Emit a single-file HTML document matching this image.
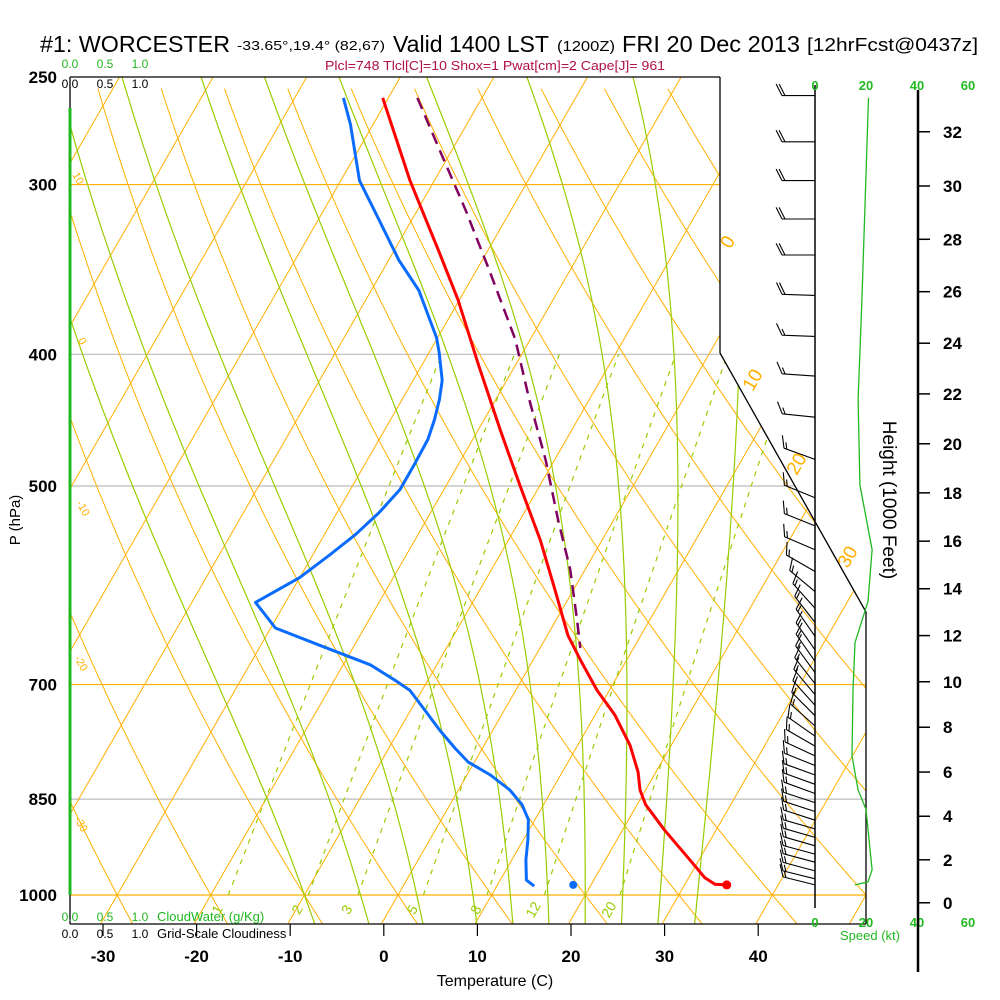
<!DOCTYPE html>
<html><head><meta charset="utf-8"><title>Skew-T WORCESTER</title>
<style>
html,body{margin:0;padding:0;background:#fff;}
svg{display:block;font-family:"Liberation Sans",sans-serif;}
</style></head>
<body>
<svg id="chart" width="1000" height="1000" viewBox="0 0 1000 1000" xmlns="http://www.w3.org/2000/svg">
<defs>
<clipPath id="plotclip"><polygon points="70,77 720,77 720,353 866,612 866,924 70,924"/></clipPath>
</defs>
<rect x="0" y="0" width="1000" height="1000" fill="#fff"/>
<g id="title" fill="#000">
<text x="40" y="52" font-size="23" textLength="190" lengthAdjust="spacingAndGlyphs">#1: WORCESTER</text>
<text x="237" y="50" font-size="13" textLength="148" lengthAdjust="spacingAndGlyphs">-33.65°,19.4° (82,67)</text>
<text x="393" y="52" font-size="23" textLength="156" lengthAdjust="spacingAndGlyphs">Valid 1400 LST</text>
<text x="557" y="51" font-size="15" textLength="58" lengthAdjust="spacingAndGlyphs">(1200Z)</text>
<text x="622" y="52" font-size="23" textLength="178" lengthAdjust="spacingAndGlyphs">FRI 20 Dec 2013</text>
<text x="807" y="51" font-size="18" textLength="171" lengthAdjust="spacingAndGlyphs">[12hrFcst@0437z]</text>
</g>
<text x="495" y="70" font-size="13" fill="#b0104a" text-anchor="middle" textLength="340" lengthAdjust="spacingAndGlyphs">Plcl=748 Tlcl[C]=10 Shox=1 Pwat[cm]=2 Cape[J]= 961</text>
<g id="grid" clip-path="url(#plotclip)"></g>
<g id="frame"></g>
<g id="series"></g>
<g id="winds"></g>
<g id="axes"></g>
</svg>
<script>
// ---- data ----
const pressureTicks = [250, 300, 400, 500, 700, 850, 1000];
const tempTicks = [-30, -20, -10, 0, 10, 20, 30, 40];
const tempP = [259,298,338,365,407,455,499,548,596,644,671,707,737,776,812,837,858,896,942,971,982,983];
const tempT = [-50.6,-42.6,-34.8,-30.1,-24.0,-17.6,-12.2,-6.6,-2.0,2.2,5.0,8.7,12.1,15.6,18.1,19.4,20.9,24.5,29.0,31.7,33.2,34.5];
const dewP = [259,271,298,318,341,359,389,399,418,432,447,462,482,503,523,543,562,584,609,622,636,655,677,695,707,731,756,780,798,816,837,858,880,911,942,975,985];
const dewT = [-54.8,-52.4,-48.0,-43.6,-38.9,-34.9,-30.1,-28.9,-26.9,-26.0,-25.3,-24.8,-24.7,-24.7,-25.5,-26.7,-28.2,-30.0,-33.2,-31.4,-29.5,-23.7,-17.1,-13.5,-11.3,-8.5,-5.7,-2.9,-0.7,2.5,5.5,7.7,9.3,10.5,11.5,12.8,14.0];
const surfaceTemp = [983, 34.5];
const surfaceDew = [983, 18.1];
const parcelP = [259,283,313,347,390,432,478,530,576,627,658];
const parcelT = [-46.9,-41.3,-34.9,-28.6,-21.6,-16.4,-11.0,-5.9,-1.6,2.2,4.3];
const windP = [258,279,298,318,338,362,388,415,445,478,510,535,557,578,598,615,630,645,660,673,686,699,712,725,738,751,764,777,790,803,816,829,842,855,868,881,894,907,920,933,946,960,973,983];
const windDir = [270,270,270,270,270,272,272,274,276,290,292,292,293,300,310,318,322,325,325,325,324,322,320,318,315,312,305,300,295,292,290,290,290,288,288,288,286,286,286,285,285,285,284,284];
const windSpd = [20,20,20,20,20,20,15,15,15,15,15,15,15,15,15,15,15,15,15,15,15,15,15,15,15,15,15,15,15,15,15,15,15,15,15,15,15,15,15,15,15,15,15,15];
const speedP = [259,365,432,499,557,608,652,707,790,837,865,927,958,978,983];
const speedKt = [21,18.4,16.9,17.6,22.4,20.8,15.7,14.9,14.5,16.9,20,21.6,22.4,20.8,15.7];
const heightTicks = [0,2,4,6,8,10,12,14,16,18,20,22,24,26,28,30,32];
const speedTicks = [0,20,40,60];
const mixRatios = [1,2,3,5,8,12,20];
const moistThetaW = [-10,-4,2,8,12,16,20,24,28,32];
const dryTheta = [-40,-30,-20,-10,0,10,20,30,40,50,60,70,80,90,100,110,120,130,140,150,160,170,180,190,200];
const isotherms = [-130,-120,-110,-100,-90,-80,-70,-60,-50,-40,-30,-20,-10,0,10,20,30,40,50];

// ---- axes ----
const Y0 = 77, Y1 = 895;
function yP(p){ return Y0 + (Y1 - Y0) * Math.log(p/250) / Math.log(4); }
function xTP(T, p){ return 398 + 9.36 * T + 0.575 * (Y1 - yP(p)); }
function xSpd(s){ return 815 + 2.55 * s; }
function pFromKft(z){ return 1013.25 * Math.pow(1 - z*1000/145366, 1/0.190284); }

const NS = 'http://www.w3.org/2000/svg';
function mk(parent, tag, attrs, text){
  const el = document.createElementNS(NS, tag);
  for (const k in attrs) el.setAttribute(k, attrs[k]);
  if (text !== undefined) el.textContent = text;
  parent.appendChild(el);
  return el;
}
function ptsStr(arr){ return arr.map(a => a[0].toFixed(1)+','+a[1].toFixed(1)).join(' '); }

const grid = document.getElementById('grid');
const frame = document.getElementById('frame');
const series = document.getElementById('series');
const winds = document.getElementById('winds');
const axes = document.getElementById('axes');
const PBOT = 1055, PTOP = 250;

pressureTicks.forEach(p => {
  if (p === 250) return;
  const col = (p === 300 || p === 700 || p === 1000) ? '#ffb000' : '#bbbbbb';
  const ln = mk(grid, 'line', {x1:70, x2:866, y1:yP(p), y2:yP(p), stroke:col, 'stroke-width':1.2});
  
  
});

isotherms.forEach(T => {
  const ln = mk(grid, 'line', {x1:xTP(T,PBOT), y1:yP(PBOT), x2:xTP(T,PTOP), y2:yP(PTOP), stroke:'#ffb000', 'stroke-width':1});
  
  
});

dryTheta.forEach(th => {
  const pts = [];
  for (let p = PBOT; p >= PTOP; p -= 10) {
    const T = (th + 273.15) * Math.pow(p/1000, 0.286) - 273.15;
    pts.push([xTP(T,p), yP(p)]);
  }
  const pl = mk(grid, 'polyline', {points:ptsStr(pts), fill:'none', stroke:'#ffb000', 'stroke-width':1});
  
  
});

function es(Tc){ return 6.112 * Math.exp(17.67*Tc/(Tc+243.5)); }
function moistPath(Tw){
  const Rd=287, cp=1004, Lv=2.5e6, eps=0.622;
  let T = Tw + 273.15, p = 1000;
  const up = [], down = [];
  let Td = T;
  for (let q = 1000; q <= PBOT; q += 5) {
    down.push([xTP(Td-273.15,q), yP(q)]);
    const e = es(Td-273.15), rs = eps*e/(q-e);
    const dTdp = (Rd*Td + Lv*rs)/(q*(cp + Lv*Lv*rs*eps/(Rd*Td*Td)));
    Td += dTdp*5;
  }
  for (p = 1000; p >= PTOP; p -= 5) {
    up.push([xTP(T-273.15,p), yP(p)]);
    const e = es(T-273.15), rs = eps*e/(p-e);
    const dTdp = (Rd*T + Lv*rs)/(p*(cp + Lv*Lv*rs*eps/(Rd*T*T)));
    T -= dTdp*5;
  }
  return down.reverse().concat(up);
}
moistThetaW.forEach(tw => {
  const pl = mk(grid, 'polyline', {points:ptsStr(moistPath(tw)), fill:'none', stroke:'#99cc00', 'stroke-width':1.2});
  
  
});

function tdFromW(w, p){ const e = w*p/(622+w); const l = Math.log(e/6.112); return 243.5*l/(17.67-l); }
mixRatios.forEach(w => {
  const pts = [];
  for (let p = 1000; p >= 400; p -= 10) pts.push([xTP(tdFromW(w,p)-1,p), yP(p)]);
  const pl = mk(grid, 'polyline', {points:ptsStr(pts), fill:'none', stroke:'#99cc00', 'stroke-width':1.2, 'stroke-dasharray':'5,6'});
  
  
  const lx = xTP(tdFromW(w,1000)-1,1000) - 7, ly = 912;
  const t = mk(axes, 'text', {x:lx, y:ly, 'font-size':14, fill:'#99cc00', 'text-anchor':'middle', transform:'rotate(-60 '+lx+' '+ly+')'}, String(w));
  
  
});

[[70,77,720,77],[720,77,720,353],[720,353,866,612],[866,612,866,924],[70,924,866,924],[70,77,70,924]].forEach(s => {
  const ln = mk(frame, 'line', {x1:s[0], y1:s[1], x2:s[2], y2:s[3], stroke:'#000', 'stroke-width':1.3});
  
  
});
const gv = mk(frame, 'line', {x1:70, y1:108, x2:70, y2:895, stroke:'#22b822', 'stroke-width':3});



function profile(P, T, color, w, dash, name){
  const pts = P.map((p,i) => [xTP(T[i],p), yP(p)]);
  const a = {points:ptsStr(pts), fill:'none', stroke:color, 'stroke-width':w, 'stroke-linejoin':'round'};
  if (dash) a['stroke-dasharray'] = dash;
  const pl = mk(series, 'polyline', a);
  
  
}
profile(parcelP, parcelT, '#800060', 2.5, '12,7', 'parcel-curve');
profile(dewP, dewT, '#0a6cff', 3, null, 'dewpoint-curve');
profile(tempP, tempT, '#ff0000', 3, null, 'temperature-curve');
const d1 = mk(series, 'circle', {cx:xTP(surfaceTemp[1],surfaceTemp[0]), cy:yP(surfaceTemp[0]), r:4.5, fill:'#ff0000'});


const d2 = mk(series, 'circle', {cx:xTP(surfaceDew[1],surfaceDew[0]), cy:yP(surfaceDew[0]), r:4, fill:'#0a6cff'});



const staff = mk(winds, 'line', {x1:815, y1:85, x2:815, y2:908, stroke:'#000', 'stroke-width':1.5});


windP.forEach((p,i) => {
  const y = yP(p), rad = windDir[i]*Math.PI/180;
  const ux = Math.sin(rad), uy = -Math.cos(rad);
  const L = 33, ex = 815 + ux*L, ey = y + uy*L;
  let d = 'M815,'+y.toFixed(1)+' L'+ex.toFixed(1)+','+ey.toFixed(1);
  const a = 63*Math.PI/180;
  const fx = ux*Math.cos(a) - uy*Math.sin(a), fy = ux*Math.sin(a) + uy*Math.cos(a);
  let s = windSpd[i], k = 0;
  while (s >= 10) { const bx = ex - ux*3*k, by = ey - uy*3*k; d += ' M'+bx.toFixed(1)+','+by.toFixed(1)+' l'+(fx*13).toFixed(1)+','+(fy*13).toFixed(1); s -= 10; k++; }
  if (s >= 5) { const bx = ex - ux*3*k, by = ey - uy*3*k; d += ' M'+bx.toFixed(1)+','+by.toFixed(1)+' l'+(fx*7).toFixed(1)+','+(fy*7).toFixed(1); }
  const b = mk(winds, 'path', {d:d, fill:'none', stroke:'#000', 'stroke-width':1.1});
  
  
});
const sp = mk(winds, 'polyline', {points:ptsStr(speedP.map((p,i)=>[xSpd(speedKt[i]), yP(p)])), fill:'none', stroke:'#22b822', 'stroke-width':1.3});


speedTicks.forEach(s => {
  [[85,'top'],[922,'bottom']].forEach(r => {
    const t = mk(axes, 'text', {x:xSpd(s), y:r[0]+5, 'font-size':13, 'font-weight':'bold', fill:'#22b822', 'text-anchor':'middle'}, String(s));
    
    
  });
});
const spl = mk(axes, 'text', {x:870, y:940, 'font-size':13, fill:'#22b822', 'text-anchor':'middle'}, 'Speed (kt)');



const ha = mk(axes, 'line', {x1:918, y1:90, x2:918, y2:972, stroke:'#000', 'stroke-width':2.5});


heightTicks.forEach(h => {
  const y = yP(pFromKft(h));
  const tk = mk(axes, 'line', {x1:918, x2:930, y1:y, y2:y, stroke:'#000', 'stroke-width':1.5});
  
  
  const t = mk(axes, 'text', {x:943, y:y+6, 'font-size':17, 'font-weight':'bold', fill:'#000'}, String(h));
  
  
});
const ht = mk(axes, 'text', {x:883, y:500, 'font-size':19, fill:'#000', 'text-anchor':'middle', transform:'rotate(90 883 500)'}, 'Height (1000 Feet)');



pressureTicks.forEach(p => {
  const t = mk(axes, 'text', {x:57, y:yP(p)+6, 'font-size':17, 'font-weight':'bold', fill:'#000', 'text-anchor':'end'}, String(p));
  
  
});
const pt = mk(axes, 'text', {x:20, y:520, 'font-size':15, fill:'#000', 'text-anchor':'middle', transform:'rotate(-90 20 520)'}, 'P (hPa)');



tempTicks.forEach(T => {
  const x = xTP(T, 1052) + 3;
  const tk = mk(axes, 'line', {x1:x, x2:x, y1:924, y2:936, stroke:'#000', 'stroke-width':1.2});
  
  
  const t = mk(axes, 'text', {x:x, y:962, 'font-size':17, 'font-weight':'bold', fill:'#000', 'text-anchor':'middle'}, String(T));
  
  
});
const tt = mk(axes, 'text', {x:495, y:986, 'font-size':16, fill:'#000', 'text-anchor':'middle'}, 'Temperature (C)');



[[75,180,'10'],[79,343,'0'],[80,510,'-10'],[78,665,'-20'],[78,826,'-30']].forEach(l => {
  const t = mk(axes, 'text', {x:l[0], y:l[1], 'font-size':11, fill:'#ffb000', 'text-anchor':'middle', transform:'rotate(60 '+l[0]+' '+l[1]+')'}, l[2]);
  
  
});
[[733,245,'0'],[758,383,'10'],[802,467,'20'],[853,560,'30']].forEach(l => {
  const t = mk(axes, 'text', {x:l[0], y:l[1], 'font-size':19, fill:'#ffb000', 'text-anchor':'middle', transform:'rotate(-60 '+l[0]+' '+l[1]+')'}, l[2]);
  
  
});

[[70,68,'#22b822','top-cloudwater'],[70,88,'#000','top-cloudiness'],[70,921,'#22b822','bottom-cloudwater'],[70,938,'#000','bottom-cloudiness']].forEach(r => {
  ['0.0','0.5','1.0'].forEach((s,i) => {
    const t = mk(axes, 'text', {x:r[0]+i*35, y:r[1], 'font-size':12, fill:r[2], 'text-anchor':'middle'}, s);
    
    
  });
});
const cw = mk(axes, 'text', {x:157, y:921, 'font-size':13, fill:'#22b822'}, 'CloudWater (g/Kg)');


const gc = mk(axes, 'text', {x:157, y:938, 'font-size':13, fill:'#000'}, 'Grid-Scale Cloudiness');


</script>
</body></html>
